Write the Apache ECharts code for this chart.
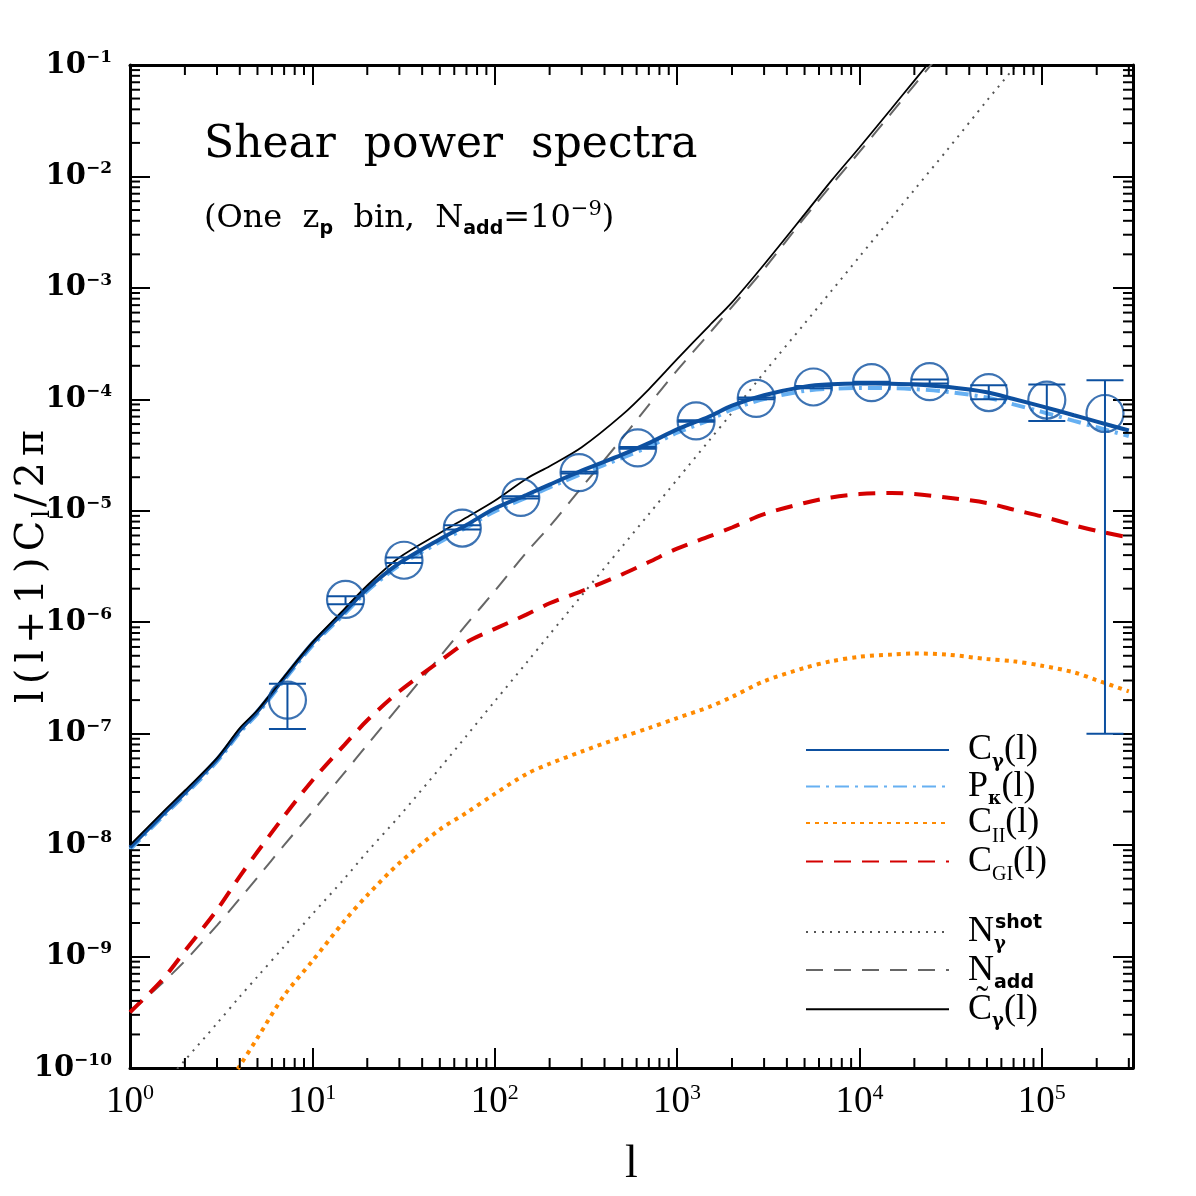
<!DOCTYPE html>
<html><head><meta charset="utf-8">
<script src="https://cdn.jsdelivr.net/npm/echarts@6/dist/echarts.min.js"></script>
<style>html,body{margin:0;padding:0;background:#fff}#c{width:1196px;height:1196px}</style>
</head><body><div id="c"></div><script>
// multipole grid of the theory curves
const ells = [1,1.5,2,3,4,5,7,10,15,20,30,50,70,100,150,200,300,500,700,1000,1500,2000,3000,5000,7000,10000,15000,20000,30000,50000,70000,100000,150000,200000,300000];
// log10 of l(l+1)C_l/2pi, one value per ell
const logCgamma = [-8.02,-7.73,-7.53,-7.23,-6.97,-6.80,-6.50,-6.19,-5.905,-5.70,-5.47,-5.255,-5.127,-4.98,-4.856,-4.765,-4.64,-4.496,-4.393,-4.27,-4.154,-4.056,-3.963,-3.886,-3.865,-3.858,-3.86,-3.866,-3.888,-3.937,-3.997,-4.063,-4.143,-4.20,-4.28];
const logPkappa = [-8.04,-7.75,-7.55,-7.25,-6.99,-6.82,-6.52,-6.21,-5.925,-5.72,-5.49,-5.28,-5.15,-5.005,-4.882,-4.79,-4.668,-4.525,-4.425,-4.30,-4.186,-4.09,-3.998,-3.924,-3.905,-3.898,-3.90,-3.908,-3.932,-3.984,-4.045,-4.112,-4.193,-4.25,-4.33];
const logCII = [-11.5,-11.0,-10.7,-10.3,-9.98,-9.73,-9.35,-9.04,-8.68,-8.45,-8.16,-7.86,-7.71,-7.54,-7.36,-7.27,-7.16,-7.03,-6.95,-6.86,-6.76,-6.67,-6.53,-6.41,-6.35,-6.31,-6.29,-6.28,-6.29,-6.33,-6.35,-6.39,-6.45,-6.52,-6.62];
const logCGI = [-9.50,-9.21,-8.95,-8.58,-8.28,-8.06,-7.74,-7.42,-7.10,-6.88,-6.62,-6.35,-6.18,-6.06,-5.93,-5.83,-5.72,-5.57,-5.46,-5.34,-5.23,-5.15,-5.03,-4.93,-4.88,-4.85,-4.84,-4.85,-4.88,-4.93,-4.99,-5.05,-5.13,-5.18,-5.24];
const logNshot = [-10.5,-10.16,-9.93,-9.60,-9.36,-9.18,-8.91,-8.62,-8.30,-8.06,-7.74,-7.31,-7.02,-6.71,-6.36,-6.11,-5.76,-5.32,-5.03,-4.72,-4.37,-4.12,-3.76,-3.32,-3.03,-2.72,-2.37,-2.12,-1.77,-1.32,-1.03,-0.72,-0.37,-0.12,0.23];
const logNadd = [-9.50,-9.24,-9.04,-8.72,-8.48,-8.29,-8.00,-7.70,-7.35,-7.10,-6.75,-6.31,-6.02,-5.72,-5.37,-5.14,-4.79,-4.35,-4.05,-3.74,-3.41,-3.17,-2.83,-2.37,-2.08,-1.78,-1.43,-1.18,-0.83,-0.39,-0.10,0.22,0.57,0.82,1.17];
const logCtot = [-8.00,-7.71,-7.51,-7.22,-6.95,-6.79,-6.49,-6.18,-5.88,-5.67,-5.42,-5.20,-5.06,-4.91,-4.71,-4.60,-4.43,-4.14,-3.91,-3.64,-3.34,-3.13,-2.79,-2.34,-2.04,-1.74,-1.39,-1.14,-0.79,-0.35,-0.06,0.26,0.61,0.86,1.21];
// binned measurements with error bars
const ptL  = [7.3,15.2,31.8,66.4,139,290,608,1271,2716,5590,11650,24270,51170,106500,222000];
const ptY  = [2.0e-7,1.6e-6,3.6e-6,7.0e-6,1.32e-5,2.2e-5,3.67e-5,6.4e-5,1.02e-4,1.29e-4,1.41e-4,1.44e-4,1.15e-4,9.85e-5,7.46e-5];
const ptLo = [1.1e-7,1.45e-6,3.4e-6,6.8e-6,1.29e-5,2.16e-5,3.6e-5,6.3e-5,1.0e-4,1.26e-4,1.38e-4,1.39e-4,1.0e-4,6.4e-5,1.0e-7];
const ptHi = [2.8e-7,1.71e-6,3.8e-6,7.4e-6,1.35e-5,2.24e-5,3.74e-5,6.5e-5,1.04e-4,1.32e-4,1.44e-4,1.51e-4,1.34e-4,1.36e-4,1.48e-4];
// axis ranges
const xMin = 1, xMax = 316228, yMin = 1e-10, yMax = 1e-1;

const BLUE = '#0d50a0', LBLUE = '#66b0f2', RED = '#d40000', ORANGE = '#ff8a00';
const toPairs = logs => ells.map((l, i) => [l, Math.pow(10, logs[i])]);

const minorX = [], minorY = [];
for (let k = 0; k <= 5; k++) for (let m = 2; m <= 9; m++) { const v = m * Math.pow(10, k); if (v < xMax) minorX.push(v); }
for (let k = -10; k <= -2; k++) for (let m = 2; m <= 9; m++) minorY.push(m * Math.pow(10, k));

function powLabel(v) {
  const lg = Math.log10(v), e = Math.round(lg);
  if (Math.abs(lg - e) > 1e-6) return '';
  return '{b|10}{s|' + (e < 0 ? '\u2212' : '') + Math.abs(e) + '}';
}

const legendText = {
  'Cg': '{m|C}{sg|\u03b3}{m|(l)}',
  'Pk': '{m|P}{sk|\u03ba}{m|(l)}',
  'CII': '{m|C}{sr|II}{m|(l)}',
  'CGI': '{m|C}{sr|GI}{m|(l)}',
  'Nshot': '{m|N}{sz|\u03b3}{st|shot}',
  'Nadd': '{m|N}{sa|add}',
  'Ctot': '{m|C\u0303}{sg|\u03b3}{m|(l)}'
};
const subBase = {verticalAlign: 'top', lineHeight: 20, padding: [22, 0, 0, 0], color: '#000'};
const legendRich = {
  m: {fontFamily: 'Liberation Serif', fontSize: 36, lineHeight: 37, color: '#000'},
  sg: Object.assign({fontFamily: 'DejaVu Serif', fontSize: 18, fontWeight: 'bold'}, subBase),
  sk: Object.assign({fontFamily: 'DejaVu Serif', fontSize: 18, fontWeight: 'bold'}, subBase),
  sr: Object.assign({fontFamily: 'Liberation Serif', fontSize: 20}, subBase),
  sz: Object.assign({fontFamily: 'DejaVu Serif', fontSize: 18, fontWeight: 'bold', width: 1}, subBase),
  sa: Object.assign({fontFamily: 'DejaVu Sans', fontSize: 19, fontWeight: 'bold'}, subBase),
  st: {fontFamily: 'DejaVu Sans', fontSize: 19, fontWeight: 'bold', lineHeight: 22, verticalAlign: 'top', color: '#000'}
};
const legendCommon = {
  orient: 'vertical', left: 805, itemWidth: 143, itemHeight: 30, selectedMode: false, padding: 0,
  itemStyle: {color: 'rgba(0,0,0,0)', borderWidth: 0, opacity: 0},
  formatter: n => legendText[n],
  textStyle: {padding: [0, 0, 0, 14], rich: legendRich}
};

function lineSeries(name, logs, color, width, dash, z) {
  return {
    name, type: 'line', data: toPairs(logs), symbol: 'none', smooth: 0.3, z, clip: true,
    lineStyle: {color, width, type: dash}, itemStyle: {color}, silent: true
  };
}

const yTitleChars = ['l', '(', 'l', '+', '1', ')', 'C'];
const yTitle = yTitleChars.map(c => '{n|' + c + '}').join('') + '{ns|l}' + ['/', '2', '\u03c0'].map(c => '{n|' + c + '}').join('');

const option = {
  animation: false,
  backgroundColor: '#fff',
  grid: {left: 130, top: 65, width: 1003, height: 1003, containLabel: false, outerBoundsMode: 'none'},
  xAxis: [
    {type: 'log', logBase: 10, min: xMin, max: xMax, position: 'bottom',
     axisLine: {show: true, lineStyle: {color: '#000', width: 3}},
     axisTick: {show: true, inside: true, length: 20, lineStyle: {color: '#000', width: 2}},
     splitLine: {show: false},
     axisLabel: {show: true, interval: 0, margin: 14, formatter: powLabel, showMaxLabel: false,
       rich: {b: {fontFamily: 'Liberation Serif', fontSize: 37, lineHeight: 40, color: '#000'},
              s: {fontFamily: 'Liberation Serif', fontSize: 22, lineHeight: 26, verticalAlign: 'top', color: '#000'}}},
     name: 'l', nameLocation: 'middle', nameGap: 74, nameMoveOverlap: false,
     nameTextStyle: {fontFamily: 'Liberation Serif', fontSize: 46, color: '#000'}},
    {type: 'log', logBase: 10, min: xMin, max: xMax, position: 'top',
     axisLine: {show: true, lineStyle: {color: '#000', width: 3}},
     axisTick: {show: true, inside: true, length: 20, lineStyle: {color: '#000', width: 2}},
     splitLine: {show: false}, axisLabel: {show: false}}
  ],
  yAxis: [
    {type: 'log', logBase: 10, min: yMin, max: yMax, position: 'left',
     axisLine: {show: true, lineStyle: {color: '#000', width: 3}},
     axisTick: {show: true, inside: true, length: 20, lineStyle: {color: '#000', width: 2}},
     splitLine: {show: false},
     axisLabel: {show: true, interval: 0, margin: 18, formatter: powLabel,
       rich: {b: {fontFamily: 'DejaVu Serif', fontWeight: 'bold', fontSize: 29, lineHeight: 32, color: '#000'},
              s: {fontFamily: 'DejaVu Serif', fontWeight: 'bold', fontSize: 17, lineHeight: 16, verticalAlign: 'top', color: '#000'}}},
     name: yTitle, nameLocation: 'middle', nameGap: 75, nameRotate: 90, nameMoveOverlap: false,
     nameTextStyle: {rich: {
       n: {fontFamily: 'DejaVu Serif', fontSize: 40, lineHeight: 44, padding: [0, 3, 0, 3], color: '#000'},
       ns: {fontFamily: 'DejaVu Serif', fontSize: 24, lineHeight: 14, verticalAlign: 'bottom', color: '#000'}}}},
    {type: 'log', logBase: 10, min: yMin, max: yMax, position: 'right',
     axisLine: {show: true, lineStyle: {color: '#000', width: 3}},
     axisTick: {show: true, inside: true, length: 20, lineStyle: {color: '#000', width: 2}},
     splitLine: {show: false}, axisLabel: {show: false}}
  ],
  legend: [
    Object.assign({}, legendCommon, {data: ['Cg', 'Pk', 'CII', 'CGI'], top: 731.5, itemGap: -3.5}),
    Object.assign({}, legendCommon, {data: ['Nshot', 'Nadd', 'Ctot'], top: 913.5, itemGap: -1.9})
  ],
  graphic: [
    {type: 'text', left: 204, top: 124, silent: true,
     style: {text: 'Shear  power  spectra', font: '44px "DejaVu Serif"', fill: '#000'}},
    {type: 'text', left: 204, top: 199, silent: true,
     style: {text: '{t|(One  z}{u|p}{t|  bin,  N}{u|add}{t|=10}{v|\u22129}{t|)}',
       rich: {
         t: {fontFamily: 'DejaVu Serif', fontSize: 32, lineHeight: 40, fill: '#000'},
         u: {fontFamily: 'DejaVu Sans', fontWeight: 'bold', fontSize: 19, lineHeight: 8, verticalAlign: 'bottom', fill: '#000'},
         v: {fontFamily: 'DejaVu Serif', fontSize: 21, lineHeight: 16, verticalAlign: 'top', fill: '#000'}
       }}}
  ],
  series: [
    lineSeries('Nshot', logNshot, '#555', 2, [2, 6], 2),
    lineSeries('Nadd', logNadd, '#666', 2, [17, 11], 2),
    lineSeries('CII', logCII, ORANGE, 4, [4, 5], 3),
    lineSeries('CGI', logCGI, RED, 4, [17, 11], 4),
    lineSeries('Pk', logPkappa, LBLUE, 4, [14, 6, 3, 6], 5),
    lineSeries('Cg', logCgamma, BLUE, 4, 'solid', 6),
    lineSeries('Ctot', logCtot, '#000', 1.8, 'solid', 7),
    {type: 'scatter', name: 'points', data: ptL.map((l, i) => [l, ptY[i]]), symbol: 'circle', symbolSize: 37,
     itemStyle: {color: 'rgba(0,0,0,0)', borderColor: BLUE, borderWidth: 2.2}, z: 8, silent: true},
    {type: 'custom', name: 'errors', z: 8, silent: true,
     data: ptL.map((l, i) => [l, ptY[i], ptLo[i], ptHi[i]]),
     encode: {x: 0, y: 1},
     renderItem: (params, api) => {
       const lo = api.coord([api.value(0), api.value(2)]);
       const hi = api.coord([api.value(0), api.value(3)]);
       const w = 18.5, st = {stroke: BLUE, lineWidth: 2};
       return {type: 'group', children: [
         {type: 'line', shape: {x1: lo[0], y1: lo[1], x2: hi[0], y2: hi[1]}, style: st},
         {type: 'line', shape: {x1: lo[0] - w, y1: lo[1], x2: lo[0] + w, y2: lo[1]}, style: st},
         {type: 'line', shape: {x1: hi[0] - w, y1: hi[1], x2: hi[0] + w, y2: hi[1]}, style: st}
       ]};
     }},
    {type: 'custom', name: 'minorX', z: 9, silent: true,
     data: minorX.map(v => [v, 1e-5]), encode: {x: 0, y: 1},
     renderItem: (params, api) => {
       const cs = params.coordSys;
       const x = api.coord([api.value(0), 1e-5])[0];
       const yb = cs.y + cs.height, yt = cs.y, st = {stroke: '#000', lineWidth: 2};
       return {type: 'group', children: [
         {type: 'line', shape: {x1: x, y1: yb, x2: x, y2: yb - 10}, style: st},
         {type: 'line', shape: {x1: x, y1: yt, x2: x, y2: yt + 10}, style: st}
       ]};
     }},
    {type: 'custom', name: 'minorY', z: 9, silent: true,
     data: minorY.map(v => [100, v]), encode: {x: 0, y: 1},
     renderItem: (params, api) => {
       const cs = params.coordSys;
       const y = api.coord([100, api.value(1)])[1];
       const xl = cs.x, xr = cs.x + cs.width, st = {stroke: '#000', lineWidth: 2};
       return {type: 'group', children: [
         {type: 'line', shape: {x1: xl, y1: y, x2: xl + 10, y2: y}, style: st},
         {type: 'line', shape: {x1: xr, y1: y, x2: xr - 10, y2: y}, style: st}
       ]};
     }}
  ]
};
const chart = echarts.init(document.getElementById('c'), null, {renderer: 'canvas'});
chart.setOption(option);
</script></body></html>
